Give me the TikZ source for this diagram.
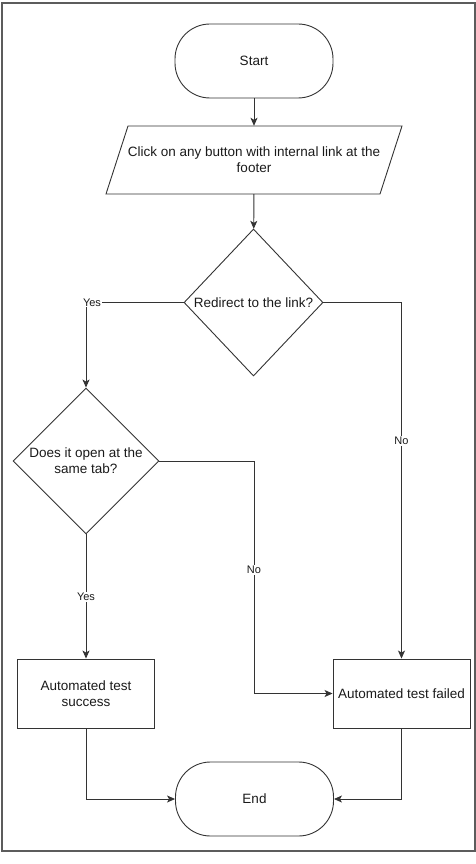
\documentclass[tikz,border=0pt]{standalone}
\usepackage{fontspec}
\setmainfont{Liberation Sans}
\usetikzlibrary{shapes.geometric,arrows.meta}
\definecolor{ln}{HTML}{333333}
\definecolor{tx}{HTML}{1A1A1A}
\begin{document}
\begin{tikzpicture}[x=1pt,y=1pt,
  every node/.style={text=tx,font=\fontsize{13.5}{16}\selectfont},
  term/.style={draw=ln,line width=0.9pt,rounded corners=35pt,minimum width=158pt,minimum height=74pt,inner sep=0pt},
  proc/.style={draw=ln,line width=0.9pt,minimum width=137pt,minimum height=69pt,inner sep=0pt,align=center},
  dec/.style={draw=ln,line width=0.9pt,diamond,aspect=1,inner sep=0pt,align=center},
  flow/.style={draw=ln,line width=0.9pt,-{Stealth[length=8pt,width=7pt,inset=2pt]}},
  lbl/.style={fill=white,inner sep=1pt,font=\fontsize{11}{13}\selectfont}]
\useasboundingbox (0,0) rectangle (476,-864);
\draw[color=ln!80,line width=1.2pt] (2,-3) rectangle (475,-851);

\node[term] (start) at (254,-61) {Start};
\node[minimum width=274pt,minimum height=68pt,inner sep=0pt,align=center] (click) at (254,-160)
  {Click on any button with internal link at the\\footer};
\draw[ln,line width=0.9pt] (128,-126) -- (402,-126) -- (380,-194) -- (106,-194) -- cycle;
\node[dec,minimum width=139pt,minimum height=147pt] (d1) at (253.5,-302.5) {Redirect to the link?};
\node[dec,minimum width=146pt,minimum height=146pt] (d2) at (86,-461) {Does it open at the\\same tab?};
\node[proc] (succ) at (86,-693.5) {Automated test\\success};
\node[proc] (fail) at (401.5,-693.5) {Automated test failed};
\node[term] (end) at (254.5,-799) {End};

\coordinate (bend) at (254,-461);

\draw[flow] (start) -- (click);
\draw[flow] (click) -- (d1);
\draw[flow] (d1.west) -| (d2.north);
\node[lbl] (yes1) at (92,-302.5) {Yes};
\draw[flow] (d1.east) -| (fail.north);
\node[lbl] (no1) at (fail.north |- 0,-441) {No};
\draw[flow] (d2.east) -- (bend) |- (fail.west);
\node[lbl] (no2) at (254,-570) {No};
\draw[flow] (d2.south) -- (succ.north);
\node[lbl] (yes2) at (86,-597) {Yes};
\draw[flow] (succ.south) |- (end.west);
\draw[flow] (fail.south) |- (end.east);
\end{tikzpicture}
\end{document}
